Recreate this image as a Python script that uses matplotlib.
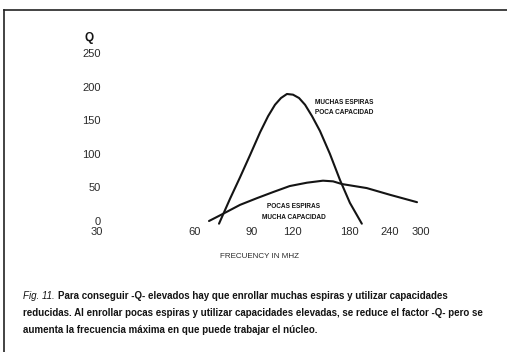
import matplotlib
matplotlib.use("Agg")
import matplotlib.pyplot as plt
from matplotlib.lines import Line2D

# Axis ticks
freq_ticks = [30, 60, 90, 120, 180, 240, 300]
q_ticks = [0, 50, 100, 150, 200, 250]

# Muchas espiras, poca capacidad
f_high = [71.4, 77.2, 82.9, 89, 95.6, 101.2, 106.3, 110.9, 115.7, 120.8,
          126.1, 131.6, 138.3, 146.3, 157, 168.7, 181, 197]
q_high = [-4, 33, 65, 98, 132, 156, 173, 183, 189, 188,
          183, 173, 156, 134, 100, 61, 27, -4]

# Pocas espiras, mucha capacidad
f_low = [66.5, 73, 82.9, 93.5, 104.8, 118, 133.4, 149.5, 160.6, 171, 204, 240.6, 291.6]
q_low = [0, 10, 24, 34, 43, 52, 57, 60, 59, 55, 49, 39, 28]

label_high = ["MUCHAS ESPIRAS", "POCA CAPACIDAD"]
label_low = ["POCAS ESPIRAS", "MUCHA CAPACIDAD"]
x_title = "FRECUENCY IN MHZ"
y_title = "Q"
fig_tag = "Fig. 11."
caption = [
    "Para conseguir -Q- elevados hay que enrollar muchas espiras y utilizar capacidades",
    "reducidas. Al enrollar pocas espiras y utilizar capacidades elevadas, se reduce el factor -Q- pero se",
    "aumenta la frecuencia máxima en que puede trabajar el núcleo.",
]

NARROW = ["Liberation Sans Narrow", "Liberation Sans", "DejaVu Sans"]
INK = "#141414"

W, H = 507, 352
fig = plt.figure(figsize=(W / 100, H / 100), dpi=100)
fig.patch.set_facecolor("white")


def fx(px):
    return px / W


def fy(py):
    return 1 - py / H


# axes box: f=30 at x=97, f=300 at x=421; Q=0 at y=221, 0.672 px per unit
ppu = 0.672
y0 = 221
ymin, ymax = -8, 255
ax_left, ax_right = 97, 421
ax_top = y0 - ymax * ppu
ax_bot = y0 - ymin * ppu
ax = fig.add_axes([fx(ax_left), fy(ax_bot), fx(ax_right - ax_left), (ax_bot - ax_top) / H])
ax.set_xscale("log")
ax.set_xlim(30, 300)
ax.set_ylim(ymin, ymax)
ax.patch.set_alpha(0)
for s in ax.spines.values():
    s.set_visible(False)

ax.plot(f_high, q_high, color=INK, lw=1.5, solid_capstyle="round", solid_joinstyle="round")
ax.plot(f_low, q_low, color=INK, lw=1.5, solid_capstyle="round", solid_joinstyle="round")

ax.set_xticks(freq_ticks)
ax.set_xticklabels([str(t) for t in freq_ticks])
ax.minorticks_off()
ax.set_yticks(q_ticks)
ax.set_yticklabels([str(t) for t in q_ticks])
ax.tick_params(axis="both", length=0, labelcolor="#2a2a2a")
ax.tick_params(axis="y", pad=-2.5)
ax.tick_params(axis="x", pad=0.5)
for lab in ax.get_xticklabels() + ax.get_yticklabels():
    lab.set_fontfamily(NARROW)
    lab.set_fontsize(8)

# curve labels
for i, t in enumerate(label_high):
    fig.text(fx(344), fy(102 + 11 * i), t, ha="center", va="center",
             family=NARROW, weight="bold", fontsize=4.7, color=INK)
for i, t in enumerate(label_low):
    fig.text(fx(294), fy(207 + 11 * i), t, ha="center", va="center",
             family=NARROW, weight="bold", fontsize=4.7, color=INK)

fig.text(fx(259), fy(256), x_title, ha="center", va="center",
         family=NARROW, fontsize=5.8, color="#2a2a2a")
fig.text(fx(89), fy(38), y_title, ha="center", va="center",
         family=NARROW, weight="bold", fontsize=8.5, color=INK)

# frame
fig.add_artist(Line2D([fx(4), fx(W)], [fy(10), fy(10)], color="#222222", lw=1.2))
fig.add_artist(Line2D([fx(4), fx(4)], [fy(10), fy(H)], color="#222222", lw=1.2))

# caption
renderer = fig.canvas.get_renderer()
cap_size = 7.0
tag = fig.text(fx(23), fy(296), fig_tag, ha="left", va="center",
               family=NARROW, style="italic", fontsize=cap_size, color=INK)
tag_w = tag.get_window_extent(renderer).width
line_y = [296, 313, 330]
line_x = [23 + tag_w + 3, 23, 23]
for t, x, y in zip(caption, line_x, line_y):
    fig.text(fx(x), fy(y), t, ha="left", va="center", family=NARROW,
             weight="bold", fontsize=cap_size, color=INK)

fig.savefig("out.png", dpi=100, facecolor="white")
